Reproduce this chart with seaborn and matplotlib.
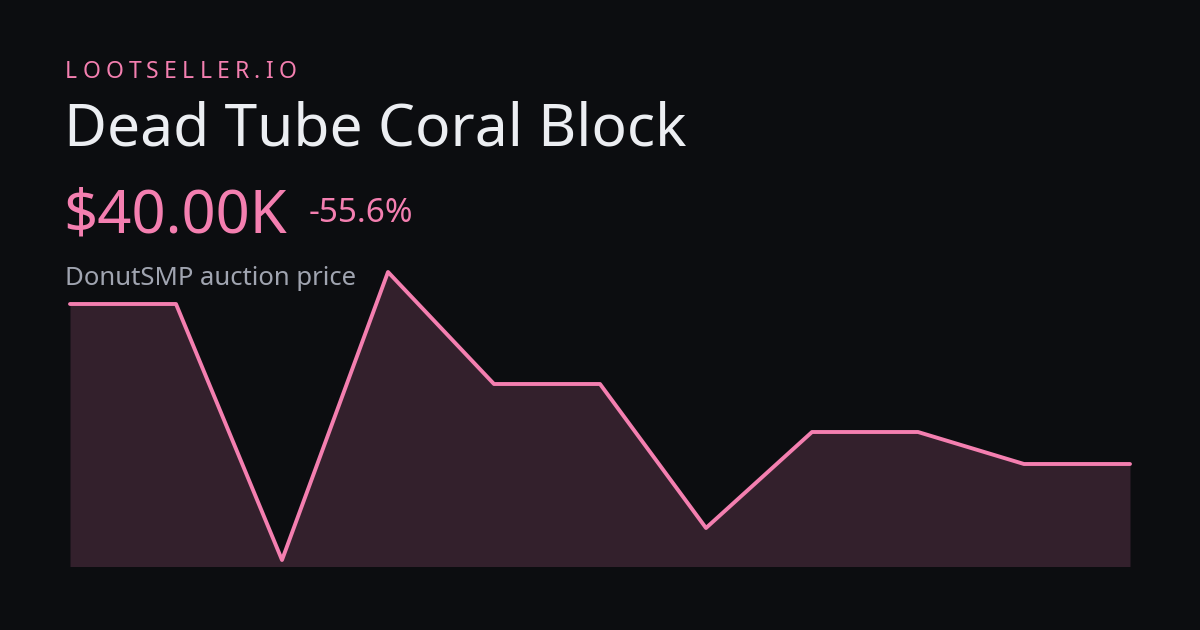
import matplotlib
matplotlib.use("Agg")
import matplotlib.pyplot as plt
import seaborn as sns
import pandas as pd

points = list(range(11))
prices_k = [90, 90, 10, 100, 65, 65, 20, 50, 50, 40, 40]
brand = "LOOTSELLER.IO"
title = "Dead Tube Coral Block"
price_label = "$40.00K"
change_label = "-55.6%"
subtitle = "DonutSMP auction price"

BG = "#0c0d10"; PINK = "#f47fb0"; FILL = "#33202c"
sns.set_theme(style="white")
plt.rcParams['font.family'] = ['Noto Sans', 'DejaVu Sans']

df = pd.DataFrame({"x": points, "y": prices_k})
fig = plt.figure(figsize=(12, 6.3), dpi=100, facecolor=BG)
ax = fig.add_axes([70/1200, 64/630, 1060/1200, 294/630])
ax.set_facecolor(BG)
ax.fill_between(df.x, df.y, 0, color=FILL, lw=0)
sns.lineplot(data=df, x="x", y="y", ax=ax, color=PINK, lw=2.8, clip_on=False)
ax.set_xlim(0, 10); ax.set_ylim(8.125, 100)
ax.axis("off")

def t(x, y, s, size, color, **kw):
    fig.text(x/1200, 1 - y/630, s, fontsize=size, color=color, va="baseline", ha="left", **kw)

x = 65
fig.canvas.draw()
r = fig.canvas.get_renderer()
for ch in brand:
    tx = fig.text(x/1200, 1-78/630, ch, fontsize=16.5, color=PINK, va="baseline")
    w = tx.get_window_extent(r).width
    x += w + 5.2
t(64, 145, title, 42.3, "#eceef2")
t(63, 233, price_label, 43, PINK)
t(309, 222, change_label, 24, PINK)
t(65, 285, subtitle, 18.5, "#a0a4b0")
fig.savefig("out.png", facecolor=BG)
